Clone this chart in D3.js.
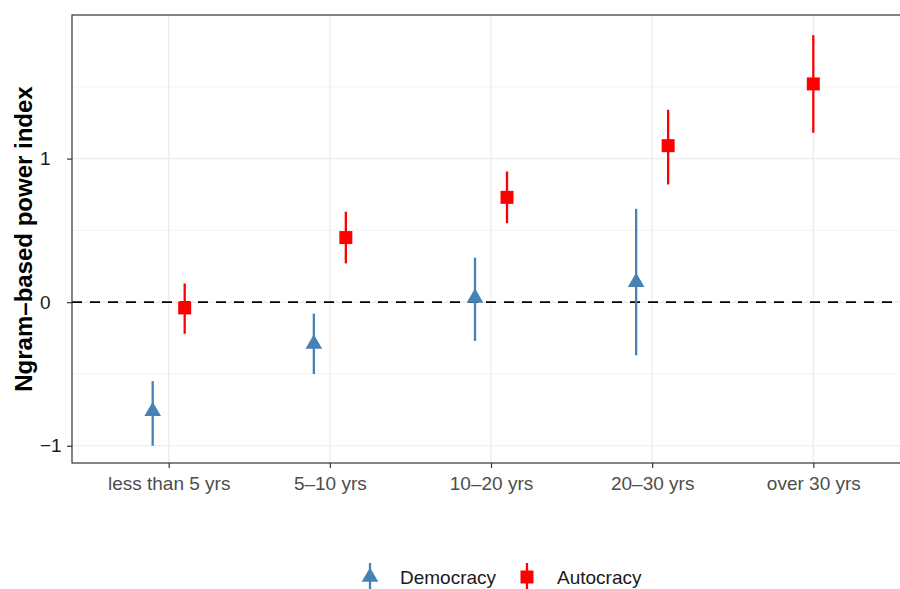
<!DOCTYPE html>
<html>
<head>
<meta charset="utf-8">
<script src="https://cdn.jsdelivr.net/npm/d3@7"></script>
<style>
  html, body { margin: 0; padding: 0; background: #fff; }
  svg { display: block; font-family: "Liberation Sans", Arial, sans-serif; }
</style>
</head>
<body>
<svg id="chart" width="900" height="589"></svg>
<script>
// Regime age groups and estimated power index (point, lower, upper)
const categories = ["less than 5 yrs", "5\u201310 yrs", "10\u201320 yrs", "20\u201330 yrs", "over 30 yrs"];
const series = ["Democracy", "Autocracy"];
const democracyEst   = [-0.76, -0.29, 0.03, 0.14, null];
const democracyLower = [-1.00, -0.50, -0.27, -0.37, null];
const democracyUpper = [-0.55, -0.08, 0.31, 0.65, null];
const autocracyEst   = [-0.04, 0.45, 0.73, 1.09, 1.52];
const autocracyLower = [-0.22, 0.27, 0.55, 0.82, 1.18];
const autocracyUpper = [0.13, 0.63, 0.91, 1.34, 1.86];
const yTicks = [-1, 0, 1];
const yMinor = [-0.5, 0.5, 1.5];

const colors = { Democracy: "#4682b4", Autocracy: "#ff0000" };

const rows = [];
categories.forEach((c, i) => {
  if (democracyEst[i] !== null) rows.push({ cat: c, group: "Democracy", est: democracyEst[i], lo: democracyLower[i], hi: democracyUpper[i] });
  if (autocracyEst[i] !== null) rows.push({ cat: c, group: "Autocracy", est: autocracyEst[i], lo: autocracyLower[i], hi: autocracyUpper[i] });
});

const svg = d3.select("#chart");
const W = 900, H = 589;
const x0 = 72, x1 = 910, y0 = 15, y1 = 463;

// discrete axis with 0.6-step expansion on each side
const x = d3.scalePoint().domain(categories).range([x0, x1]).padding(0.6);
const dodgeWidth = 32;
const y = d3.scaleLinear().domain([-1.12, 2.0]).range([y1, y0]);

// dodge offsets computed per category from the groups present there
const groupsIn = d3.group(rows, d => d.cat);
rows.forEach(d => {
  const present = series.filter(s => groupsIn.get(d.cat).some(r => r.group === s));
  const n = present.length;
  const k = present.indexOf(d.group);
  d.off = n > 1 ? -dodgeWidth / 2 + k * dodgeWidth / (n - 1) : 0;
});

const g = svg.append("g");

// panel background grid
g.selectAll("line.minor").data(yMinor).join("line")
  .attr("x1", x0).attr("x2", x1).attr("y1", d => y(d)).attr("y2", d => y(d))
  .attr("stroke", "#ebebeb").attr("stroke-width", 0.6);
g.selectAll("line.majorY").data(yTicks).join("line")
  .attr("x1", x0).attr("x2", x1).attr("y1", d => y(d)).attr("y2", d => y(d))
  .attr("stroke", "#ebebeb").attr("stroke-width", 1.2);
g.selectAll("line.majorX").data(categories).join("line")
  .attr("x1", d => x(d)).attr("x2", d => x(d))
  .attr("y1", y0).attr("y2", y1)
  .attr("stroke", "#ebebeb").attr("stroke-width", 1.2);

// reference line at zero
g.append("line")
  .attr("x1", x0).attr("x2", x1).attr("y1", y(0)).attr("y2", y(0))
  .attr("stroke", "#000").attr("stroke-width", 1.8).attr("stroke-dasharray", "10,8");

const cx = d => x(d.cat) + d.off;

// error bars
g.selectAll("line.err").data(rows).join("line")
  .attr("x1", cx).attr("x2", cx)
  .attr("y1", d => y(d.lo)).attr("y2", d => y(d.hi))
  .attr("stroke", d => colors[d.group]).attr("stroke-width", 2.3);

// point markers
const tri = d3.symbol().type(d3.symbolTriangle).size(120);
const sq = d3.symbol().type(d3.symbolSquare).size(169);
g.selectAll("path.pt").data(rows).join("path")
  .attr("transform", d => `translate(${cx(d)},${y(d.est)})`)
  .attr("d", d => d.group === "Democracy" ? tri() : sq())
  .attr("fill", d => colors[d.group]);

// panel border
g.append("rect")
  .attr("x", x0).attr("y", y0).attr("width", x1 - x0).attr("height", y1 - y0)
  .attr("fill", "none").attr("stroke", "#333").attr("stroke-width", 1.2);

// axes
const yAxis = d3.axisLeft(y).tickValues(yTicks).tickSize(5)
  .tickFormat(d => d < 0 ? "\u2212" + Math.abs(d) : String(d));
const ya = svg.append("g").attr("transform", `translate(${x0},0)`).call(yAxis);
ya.select(".domain").remove();
ya.selectAll(".tick line").attr("stroke", "#333").attr("stroke-width", 1.2);
ya.selectAll(".tick text")
  .attr("x", 40 - x0).attr("text-anchor", "start")
  .attr("fill", "#1a1a1a").style("font-size", "19px").attr("font-family", null);

const xAxis = d3.axisBottom(x).tickSize(5);
const xa = svg.append("g").attr("transform", `translate(0,${y1})`).call(xAxis);
xa.select(".domain").remove();
xa.selectAll(".tick line").attr("stroke", "#333").attr("stroke-width", 1.2);
xa.selectAll(".tick text")
  .attr("y", 27).attr("dy", null)
  .attr("fill", "#4d4d4d").style("font-size", "19px").attr("font-family", null);

// y-axis title
svg.append("text")
  .attr("transform", `translate(32,${(y0 + y1) / 2}) rotate(-90)`)
  .attr("text-anchor", "middle")
  .style("font-size", "24px").style("font-weight", "bold")
  .text("Ngram\u2013based power index");

// legend
const legend = svg.append("g").attr("transform", "translate(0,577)");
const legendItems = [
  { name: "Democracy", kx: 370, tx: 400 },
  { name: "Autocracy", kx: 527, tx: 557 }
];
legendItems.forEach(it => {
  legend.append("line").attr("x1", it.kx).attr("x2", it.kx).attr("y1", -14).attr("y2", 14)
    .attr("stroke", colors[it.name]).attr("stroke-width", 2.3);
  legend.append("path").attr("transform", `translate(${it.kx},0)`)
    .attr("d", it.name === "Democracy" ? tri() : sq()).attr("fill", colors[it.name]);
  legend.append("text").attr("x", it.tx).attr("y", 0).attr("dy", "0.35em")
    .style("font-size", "19px").attr("fill", "#1a1a1a").text(it.name);
});
</script>
</body>
</html>
